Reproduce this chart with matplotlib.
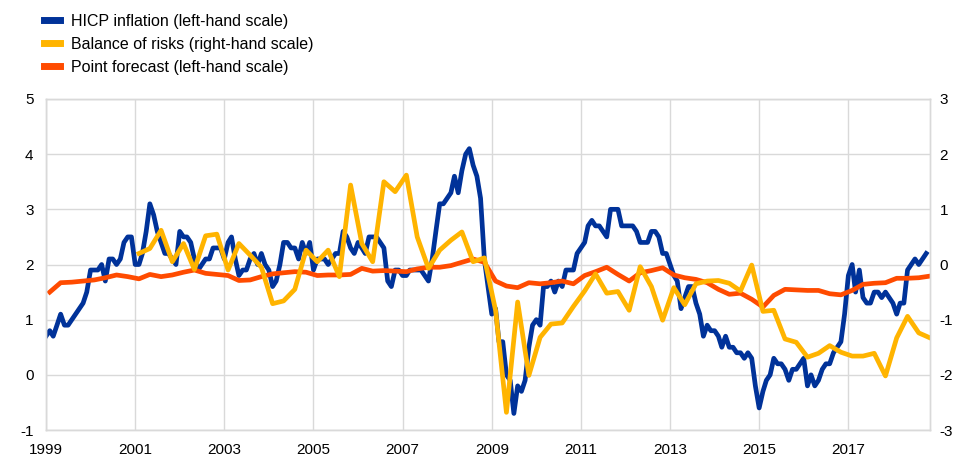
import pandas as pd
import matplotlib
matplotlib.use("Agg")
import matplotlib.pyplot as plt

plt.rcParams["font.family"] = ["Liberation Sans", "DejaVu Sans"]
plt.rcParams["font.size"] = 11
plt.rcParams["axes.unicode_minus"] = False

# Euro area HICP, annual % change, monthly Jan 1999 - Oct 2018
hicp = [
    0.7, 0.8, 0.7, 0.9, 1.1, 0.9, 0.9, 1.0, 1.1, 1.2, 1.3, 1.5,       # 1999
    1.9, 1.9, 1.9, 2.0, 1.7, 2.1, 2.1, 2.0, 2.1, 2.4, 2.5, 2.5,       # 2000
    2.0, 2.0, 2.2, 2.6, 3.1, 2.9, 2.6, 2.4, 2.2, 2.2, 2.1, 2.0,       # 2001
    2.6, 2.5, 2.5, 2.4, 2.1, 1.9, 2.0, 2.1, 2.1, 2.3, 2.3, 2.3,       # 2002
    2.1, 2.4, 2.5, 2.1, 1.8, 1.9, 1.9, 2.1, 2.2, 2.0, 2.2, 2.0,       # 2003
    1.9, 1.6, 1.7, 2.0, 2.4, 2.4, 2.3, 2.3, 2.1, 2.4, 2.2, 2.4,       # 2004
    1.9, 2.1, 2.1, 2.1, 2.0, 2.1, 2.2, 2.2, 2.6, 2.5, 2.3, 2.2,       # 2005
    2.4, 2.3, 2.2, 2.5, 2.5, 2.5, 2.4, 2.3, 1.7, 1.6, 1.9, 1.9,       # 2006
    1.8, 1.8, 1.9, 1.9, 1.9, 1.9, 1.8, 1.7, 2.1, 2.6, 3.1, 3.1,       # 2007
    3.2, 3.3, 3.6, 3.3, 3.7, 4.0, 4.1, 3.8, 3.6, 3.2, 2.1, 1.6,       # 2008
    1.1, 1.2, 0.6, 0.6, 0.0, -0.1, -0.7, -0.2, -0.3, -0.1, 0.5, 0.9,  # 2009
    1.0, 0.9, 1.6, 1.6, 1.7, 1.5, 1.7, 1.6, 1.9, 1.9, 1.9, 2.2,       # 2010
    2.3, 2.4, 2.7, 2.8, 2.7, 2.7, 2.6, 2.5, 3.0, 3.0, 3.0, 2.7,       # 2011
    2.7, 2.7, 2.7, 2.6, 2.4, 2.4, 2.4, 2.6, 2.6, 2.5, 2.2, 2.2,       # 2012
    2.0, 1.8, 1.7, 1.2, 1.4, 1.6, 1.6, 1.3, 1.1, 0.7, 0.9, 0.8,       # 2013
    0.8, 0.7, 0.5, 0.7, 0.5, 0.5, 0.4, 0.4, 0.3, 0.4, 0.3, -0.2,      # 2014
    -0.6, -0.3, -0.1, 0.0, 0.3, 0.2, 0.2, 0.1, -0.1, 0.1, 0.1, 0.2,   # 2015
    0.3, -0.2, 0.0, -0.2, -0.1, 0.1, 0.2, 0.2, 0.4, 0.5, 0.6, 1.1,    # 2016
    1.8, 2.0, 1.5, 1.9, 1.4, 1.3, 1.3, 1.5, 1.5, 1.4, 1.5, 1.4,       # 2017
    1.3, 1.1, 1.3, 1.3, 1.9, 2.0, 2.1, 2.0, 2.1, 2.2,                 # 2018
]

# SPF one-year-ahead point forecast, quarterly rounds 1999Q1 - 2018Q4
point_forecast = [
    1.50, 1.67, 1.68, 1.70,  # 1999
    1.72, 1.76, 1.81, 1.78,  # 2000
    1.74, 1.82, 1.78, 1.81,  # 2001
    1.86, 1.90, 1.84, 1.82,  # 2002
    1.80, 1.71, 1.72, 1.78,  # 2003
    1.83, 1.85, 1.87, 1.86,  # 2004
    1.80, 1.81, 1.81, 1.82,  # 2005
    1.93, 1.88, 1.89, 1.88,  # 2006
    1.87, 1.92, 1.95, 1.95,  # 2007
    1.98, 2.04, 2.10, 2.04,  # 2008
    1.70, 1.61, 1.58, 1.67,  # 2009
    1.65, 1.67, 1.70, 1.65,  # 2010
    1.80, 1.87, 1.95, 1.82,  # 2011
    1.70, 1.85, 1.89, 1.94,  # 2012
    1.81, 1.76, 1.73, 1.67,  # 2013
    1.55, 1.46, 1.48, 1.37,  # 2014
    1.23, 1.44, 1.55, 1.54,  # 2015
    1.53, 1.53, 1.47, 1.45,  # 2016
    1.53, 1.64, 1.66, 1.67,  # 2017
    1.75, 1.75, 1.76, 1.79,  # 2018
]

# balance of risks around the point forecast, 2001Q1 - 2018Q4
balance_of_risks = [
    0.20, 0.29, 0.62, 0.05,      # 2001
    0.38, -0.09, 0.52, 0.55,     # 2002
    -0.10, 0.38, 0.17, -0.05,    # 2003
    -0.71, -0.66, -0.45, 0.26,   # 2004
    0.05, 0.26, -0.22, 1.44,     # 2005
    0.38, 0.05, 1.50, 1.32,      # 2006
    1.62, 0.50, -0.07, 0.26,     # 2007
    0.44, 0.59, 0.05, 0.12,      # 2008
    -0.83, -2.68, -0.68, -2.01,  # 2009
    -1.32, -1.08, -1.06, -0.76,  # 2010
    -0.48, -0.17, -0.52, -0.49,  # 2011
    -0.83, -0.04, -0.40, -1.01,  # 2012
    -0.42, -0.73, -0.35, -0.30,  # 2013
    -0.29, -0.34, -0.48, -0.01,  # 2014
    -0.85, -0.83, -1.35, -1.41,  # 2015
    -1.68, -1.61, -1.47, -1.59,  # 2016
    -1.66, -1.66, -1.61, -2.02,  # 2017
    -1.33, -0.94, -1.24, -1.33,  # 2018
]

year_ticks = list(range(1999, 2019, 2))

hicp_dates = pd.date_range("1999-01-01", periods=len(hicp), freq="MS")
forecast_dates = pd.date_range("1999-02-01", periods=len(point_forecast), freq="3MS")
risk_dates = pd.date_range("2001-02-01", periods=len(balance_of_risks), freq="3MS")

BLUE = "#003299"
YELLOW = "#FFB400"
ORANGE = "#FF4B00"
GRID = "#d9d9d9"

fig = plt.figure(figsize=(9.6, 4.7), dpi=100)
ax = fig.add_axes([46 / 960, 40 / 470, 884 / 960, 331 / 470])
ax2 = ax.twinx()

l1, = ax.plot(hicp_dates, hicp, color=BLUE, lw=3.4, solid_joinstyle="round",
              label="HICP inflation (left-hand scale)")
l3, = ax.plot(forecast_dates, point_forecast, color=ORANGE, lw=3.4,
              solid_joinstyle="round", label="Point forecast (left-hand scale)")
l2, = ax2.plot(risk_dates, balance_of_risks, color=YELLOW, lw=3.4,
               solid_joinstyle="round", label="Balance of risks (right-hand scale)")

ax.set_xlim(pd.Timestamp("1999-01-01"), pd.Timestamp("2018-11-01"))
ax.set_ylim(-1, 5)
ax2.set_ylim(-3, 3)
ax.set_yticks(range(-1, 6))
ax2.set_yticks(range(-3, 4))
ax.set_xticks([pd.Timestamp(f"{y}-01-01") for y in year_ticks])
ax.set_xticklabels([str(y) for y in year_ticks])

ax.grid(True, color=GRID, lw=1.0)
ax.set_axisbelow(True)
for a in (ax, ax2):
    for sp in a.spines.values():
        sp.set_color(GRID)
        sp.set_linewidth(1.0)
ax.tick_params(axis="y", length=0, pad=9, labelsize=11)
ax.tick_params(axis="x", length=0, pad=9, labelsize=11)
ax2.tick_params(axis="y", length=0, pad=7, labelsize=11)

leg = fig.legend(handles=[l1, l2, l3], loc="upper left",
                 bbox_to_anchor=(44 / 960, 1 - 14 / 470), frameon=False,
                 fontsize=11.5, handlelength=1.0, handletextpad=0.7,
                 labelspacing=0.5, borderpad=0, borderaxespad=0)
for line in leg.get_lines():
    line.set_linewidth(5)

fig.savefig("out.png", dpi=100)
